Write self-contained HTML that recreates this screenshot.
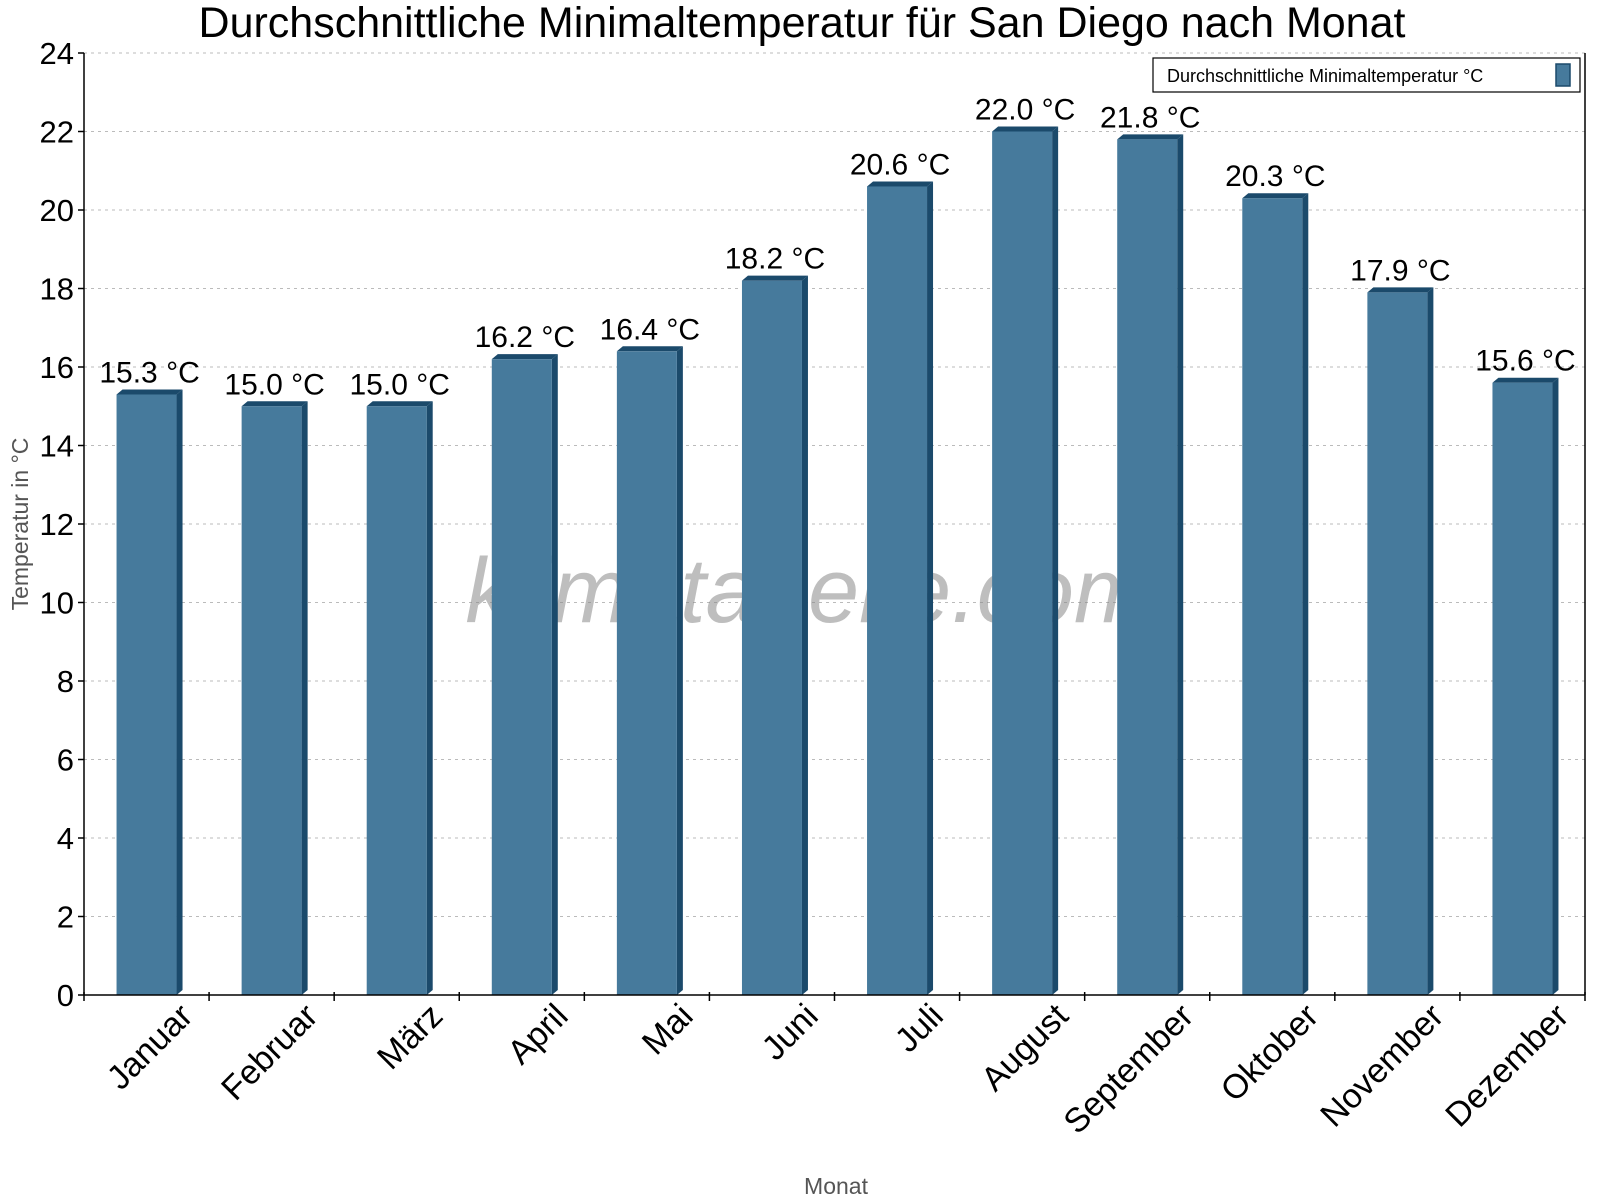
<!DOCTYPE html>
<html><head><meta charset="utf-8"><style>body{margin:0;background:#fff}svg{display:block;font-family:"Liberation Sans",sans-serif}</style></head>
<body>
<svg id="chart" width="1600" height="1200" xmlns="http://www.w3.org/2000/svg">
<text x="802" y="37" font-size="43" text-anchor="middle">Durchschnittliche Minimaltemperatur für San Diego nach Monat</text>
<g id="grid"></g>
<text x="808" y="622" font-size="92" font-style="italic" fill="#888" fill-opacity="0.55" text-anchor="middle">klimatabelle.com</text>
<g id="bars"></g>
<g id="axes"></g>
<text transform="translate(28,524) rotate(-90)" font-size="23" fill="#555" text-anchor="middle">Temperatur in °C</text>
<text x="836" y="1194" font-size="23" fill="#555" text-anchor="middle">Monat</text>
<g>
<rect x="1153" y="58" width="427" height="34" fill="#fff" stroke="#000" stroke-width="1.2"/>
<text x="1167" y="82" font-size="18">Durchschnittliche Minimaltemperatur °C</text>
<rect x="1556" y="64" width="14" height="22" fill="#467a9c" stroke="#1b4a6b" stroke-width="1.5"/>
</g>
</svg>
<script>
const categories = ["Januar","Februar","März","April","Mai","Juni","Juli","August","September","Oktober","November","Dezember"];
const values = [15.3,15.0,15.0,16.2,16.4,18.2,20.6,22.0,21.8,20.3,17.9,15.6];
const yTicks = [0,2,4,6,8,10,12,14,16,18,20,22,24];

const NS="http://www.w3.org/2000/svg";
const x0=84,x1=1585,yTop=53,yBot=995,yMax=24;
const cw=(x1-x0)/categories.length;
const y=v=>yBot-(v/yMax)*(yBot-yTop);
const cx=i=>x0+cw*(i+0.5);
function mk(tag,attrs,parent,txt){const e=document.createElementNS(NS,tag);for(const k in attrs)e.setAttribute(k,attrs[k]);if(txt!==undefined)e.textContent=txt;parent.appendChild(e);return e;}
const grid=document.getElementById('grid'),bars=document.getElementById('bars'),axes=document.getElementById('axes');

yTicks.forEach(t=>{
  if(t>0){const g=mk('line',{x1:x0,x2:x1,y1:y(t),y2:y(t),stroke:'#bbb','stroke-dasharray':'3,4','stroke-width':1},grid);
  
  }
  mk('line',{x1:x0-6,x2:x0,y1:y(t),y2:y(t),stroke:'#000','stroke-width':1.5},axes);
  const l=mk('text',{x:x0-10,y:y(t)+11,'font-size':31,'text-anchor':'end'},axes,String(t));
  
  
});

values.forEach((v,i)=>{
  const c=cx(i),L=c-30,R=c+30,T=y(v),d=6,h=5;
  const g=mk('g',{},bars);
  
  
  mk('polygon',{points:`${R},${T} ${R+d},${T-h} ${R+d},${yBot-h} ${R},${yBot}`,fill:'#1b4a6b'},g);
  mk('polygon',{points:`${L},${T} ${L+d},${T-h} ${R+d},${T-h} ${R},${T}`,fill:'#1b4a6b'},g);
  mk('rect',{x:L,y:T,width:60,height:yBot-T,fill:'#467a9c'},g);
  const lb=mk('text',{x:c+3,y:T-12,'font-size':30,'text-anchor':'middle'},bars,v.toFixed(1)+' °C');
  
  
  const xl=mk('text',{transform:`translate(${c+48},${1018}) rotate(-45)`,'font-size':34,'text-anchor':'end'},axes,categories[i]);
  
  
});
for(let i=0;i<=categories.length;i++){
  const xx=x0+cw*i;
  mk('line',{x1:xx,x2:xx,y1:yBot-3,y2:yBot+6,stroke:'#000','stroke-width':1.5},axes);
}
mk('line',{x1:x0,x2:x0,y1:yTop,y2:yBot,stroke:'#000','stroke-width':1.5},axes);
mk('line',{x1:x1,x2:x1,y1:yTop,y2:yBot,stroke:'#000','stroke-width':1.5},axes);
mk('line',{x1:x0,x2:x1,y1:yBot,y2:yBot,stroke:'#000','stroke-width':1.5},axes);
</script>
</body></html>
